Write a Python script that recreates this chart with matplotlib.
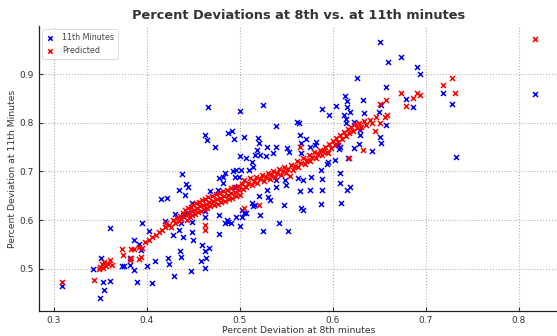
import numpy as np
import matplotlib
matplotlib.use("Agg")
import matplotlib.pyplot as plt

# 11th minute observed values (x = deviation at 8th minute)
obs_x = [0.309, 0.342, 0.351, 0.350, 0.354, 0.353, 0.360, 0.360, 0.373, 0.375,
         0.382, 0.382, 0.386, 0.389, 0.386, 0.392, 0.394, 0.395, 0.402, 0.400,
         0.409, 0.406, 0.415, 0.422, 0.420, 0.423, 0.424, 0.429, 0.430, 0.439,
         0.428, 0.439, 0.449, 0.450, 0.436, 0.437, 0.447, 0.438, 0.442, 0.444,
         0.441, 0.448, 0.435, 0.437, 0.434, 0.448, 0.443, 0.459, 0.463, 0.464,
         0.463, 0.458, 0.467, 0.466, 0.500, 0.525, 0.462, 0.465, 0.473, 0.487,
         0.492, 0.494, 0.505, 0.520, 0.521, 0.519, 0.529, 0.536, 0.539, 0.551,
         0.553, 0.565, 0.566, 0.571, 0.566, 0.575, 0.500, 0.507, 0.513, 0.516,
         0.522, 0.528, 0.484, 0.482, 0.493, 0.496, 0.501, 0.510, 0.514, 0.478,
         0.482, 0.468, 0.477, 0.495, 0.499, 0.496, 0.513, 0.514, 0.516, 0.521,
         0.529, 0.530, 0.532, 0.522, 0.478, 0.486, 0.487, 0.491, 0.496, 0.502,
         0.507, 0.484, 0.500, 0.502, 0.505, 0.525, 0.542, 0.552, 0.478, 0.539,
         0.539, 0.549, 0.550, 0.548, 0.568, 0.563, 0.568, 0.577, 0.565, 0.575,
         0.587, 0.588, 0.588, 0.587, 0.602, 0.608, 0.608, 0.616, 0.615, 0.609,
         0.566, 0.539, 0.561, 0.564, 0.588, 0.596, 0.604, 0.613, 0.615, 0.615,
         0.612, 0.614, 0.614, 0.619, 0.632, 0.634, 0.650, 0.652, 0.679, 0.686,
         0.657, 0.651, 0.652, 0.642, 0.623, 0.628, 0.608, 0.623, 0.629, 0.629,
         0.606, 0.607, 0.582, 0.581, 0.595, 0.594, 0.619, 0.651, 0.673, 0.659,
         0.691, 0.694, 0.626, 0.657, 0.719, 0.728, 0.733, 0.818, 0.462, 0.462]
obs_y = [0.464, 0.499, 0.523, 0.440, 0.457, 0.472, 0.474, 0.583, 0.505, 0.505,
         0.522, 0.508, 0.498, 0.472, 0.560, 0.551, 0.539, 0.594, 0.578, 0.505,
         0.517, 0.471, 0.644, 0.646, 0.599, 0.522, 0.510, 0.486, 0.612, 0.610,
         0.570, 0.566, 0.575, 0.560, 0.536, 0.524, 0.496, 0.694, 0.675, 0.668,
         0.652, 0.636, 0.662, 0.594, 0.580, 0.597, 0.614, 0.548, 0.536, 0.522,
         0.501, 0.517, 0.542, 0.833, 0.824, 0.837, 0.775, 0.764, 0.750, 0.779,
         0.782, 0.766, 0.770, 0.768, 0.758, 0.744, 0.751, 0.738, 0.751, 0.748,
         0.740, 0.774, 0.758, 0.766, 0.738, 0.751, 0.731, 0.727, 0.720, 0.734,
         0.734, 0.731, 0.697, 0.688, 0.700, 0.703, 0.703, 0.703, 0.709, 0.686,
         0.676, 0.659, 0.662, 0.688, 0.688, 0.667, 0.635, 0.628, 0.631, 0.650,
         0.662, 0.648, 0.642, 0.611, 0.611, 0.601, 0.597, 0.594, 0.607, 0.607,
         0.614, 0.594, 0.587, 0.621, 0.614, 0.577, 0.595, 0.577, 0.571, 0.683,
         0.669, 0.683, 0.672, 0.631, 0.621, 0.686, 0.683, 0.688, 0.659, 0.662,
         0.702, 0.684, 0.662, 0.633, 0.724, 0.697, 0.676, 0.727, 0.662, 0.635,
         0.625, 0.794, 0.801, 0.799, 0.828, 0.816, 0.835, 0.854, 0.844, 0.833,
         0.816, 0.807, 0.799, 0.823, 0.846, 0.820, 0.823, 0.837, 0.849, 0.833,
         0.796, 0.770, 0.758, 0.742, 0.748, 0.757, 0.750, 0.802, 0.785, 0.775,
         0.755, 0.746, 0.761, 0.755, 0.720, 0.716, 0.668, 0.965, 0.935, 0.925,
         0.914, 0.900, 0.891, 0.873, 0.862, 0.839, 0.729, 0.859, 0.618, 0.607]

# model predictions
pred_x = [0.309, 0.343, 0.350, 0.352, 0.354, 0.356, 0.358, 0.360, 0.353, 0.362,
          0.348, 0.373, 0.374, 0.382, 0.383, 0.386, 0.392, 0.395, 0.394, 0.391,
          0.383, 0.398, 0.402, 0.406, 0.410, 0.413, 0.416, 0.419, 0.421, 0.424,
          0.426, 0.428, 0.430, 0.432, 0.434, 0.436, 0.437, 0.439, 0.440, 0.441,
          0.442, 0.443, 0.444, 0.445, 0.446, 0.447, 0.448, 0.449, 0.450, 0.451,
          0.452, 0.453, 0.454, 0.455, 0.456, 0.457, 0.458, 0.459, 0.460, 0.461,
          0.462, 0.462, 0.463, 0.464, 0.465, 0.466, 0.467, 0.468, 0.470, 0.471,
          0.472, 0.474, 0.475, 0.476, 0.478, 0.479, 0.480, 0.482, 0.483, 0.484,
          0.486, 0.487, 0.488, 0.490, 0.491, 0.492, 0.494, 0.495, 0.496, 0.498,
          0.499, 0.500, 0.502, 0.503, 0.504, 0.505, 0.507, 0.509, 0.511, 0.513,
          0.515, 0.517, 0.519, 0.521, 0.522, 0.524, 0.526, 0.528, 0.530, 0.532,
          0.534, 0.536, 0.538, 0.540, 0.542, 0.544, 0.546, 0.548, 0.550, 0.552,
          0.554, 0.555, 0.557, 0.559, 0.561, 0.563, 0.565, 0.566, 0.568, 0.570,
          0.572, 0.574, 0.576, 0.578, 0.580, 0.582, 0.584, 0.586, 0.588, 0.590,
          0.592, 0.594, 0.595, 0.596, 0.598, 0.600, 0.602, 0.604, 0.606, 0.608,
          0.610, 0.612, 0.614, 0.616, 0.618, 0.618, 0.620, 0.622, 0.624, 0.626,
          0.628, 0.630, 0.633, 0.634, 0.636, 0.640, 0.642, 0.645, 0.647, 0.651,
          0.651, 0.656, 0.657, 0.658, 0.673, 0.679, 0.686, 0.691, 0.694, 0.719,
          0.728, 0.732, 0.818]
pred_y = [0.472, 0.477, 0.503, 0.510, 0.515, 0.505, 0.510, 0.519, 0.501, 0.507,
          0.500, 0.540, 0.528, 0.518, 0.540, 0.540, 0.545, 0.542, 0.524, 0.521,
          0.522, 0.555, 0.560, 0.566, 0.570, 0.575, 0.580, 0.585, 0.595, 0.590,
          0.585, 0.600, 0.594, 0.605, 0.598, 0.609, 0.602, 0.614, 0.607, 0.620,
          0.611, 0.600, 0.624, 0.615, 0.606, 0.627, 0.618, 0.610, 0.631, 0.621,
          0.612, 0.635, 0.625, 0.616, 0.638, 0.628, 0.619, 0.641, 0.631, 0.622,
          0.590, 0.580, 0.644, 0.634, 0.625, 0.647, 0.637, 0.628, 0.650, 0.640,
          0.631, 0.653, 0.643, 0.634, 0.656, 0.646, 0.637, 0.659, 0.649, 0.640,
          0.662, 0.652, 0.643, 0.665, 0.655, 0.646, 0.668, 0.658, 0.649, 0.671,
          0.661, 0.652, 0.674, 0.664, 0.625, 0.683, 0.668, 0.677, 0.686, 0.672,
          0.680, 0.689, 0.676, 0.631, 0.684, 0.693, 0.680, 0.688, 0.697, 0.684,
          0.692, 0.701, 0.688, 0.696, 0.705, 0.692, 0.700, 0.709, 0.697, 0.705,
          0.690, 0.714, 0.703, 0.712, 0.721, 0.709, 0.751, 0.718, 0.727, 0.715,
          0.724, 0.733, 0.721, 0.730, 0.739, 0.727, 0.736, 0.745, 0.733, 0.742,
          0.751, 0.740, 0.737, 0.757, 0.748, 0.762, 0.754, 0.769, 0.760, 0.775,
          0.766, 0.781, 0.772, 0.787, 0.727, 0.778, 0.792, 0.784, 0.797, 0.789,
          0.800, 0.792, 0.743, 0.803, 0.795, 0.806, 0.799, 0.782, 0.811, 0.799,
          0.839, 0.811, 0.847, 0.816, 0.861, 0.834, 0.851, 0.861, 0.856, 0.878,
          0.892, 0.862, 0.972]

x_ticks = [0.3, 0.4, 0.5, 0.6, 0.7, 0.8]
y_ticks = [0.5, 0.6, 0.7, 0.8, 0.9]

plt.rcParams["font.family"] = "DejaVu Sans"
fig = plt.figure(figsize=(5.57, 3.36), dpi=100)
ax = fig.add_axes([38.7/557, 25/336, (559-38.7)/557, (311-26)/336])

ax.scatter(obs_x, obs_y, marker='x', color='#0000ff', s=13, linewidths=1.1, label='11th Minutes', zorder=3)
ax.scatter(pred_x, pred_y, marker='x', color='#ff0000', s=13, linewidths=1.1, label='Predicted', zorder=3)

ax.set_xticks(x_ticks)
ax.set_yticks(y_ticks)
ax.grid(True, linestyle=':', color='#b0b0b0', linewidth=0.8)
ax.set_axisbelow(True)
ax.tick_params(direction='in', length=3, width=0.8, labelsize=6.5, labelcolor='#333333', colors='#333333')
for side in ['top', 'right']:
    ax.spines[side].set_visible(False)
for side in ['left', 'bottom']:
    ax.spines[side].set_color('#222222')
    ax.spines[side].set_linewidth(0.9)

ax.set_xlabel('Percent Deviation at 8th minutes', fontsize=6.7, color='#333333', labelpad=0.5)
ax.set_ylabel('Percent Deviation at 11th Minutes', fontsize=6.7, color='#333333', labelpad=2)
ax.set_title('Percent Deviations at 8th vs. at 11th minutes', fontsize=9.4, fontweight='bold', color='#333333', pad=5)
leg = ax.legend(loc='upper left', fontsize=5.8, frameon=True, borderpad=0.45, handletextpad=0.9,
                handlelength=1.2, markerscale=0.9, labelcolor='#444444', borderaxespad=0.4)
leg.get_frame().set_edgecolor('#cccccc')
leg.get_frame().set_linewidth(0.6)

fig.savefig("out.png", dpi=100)
